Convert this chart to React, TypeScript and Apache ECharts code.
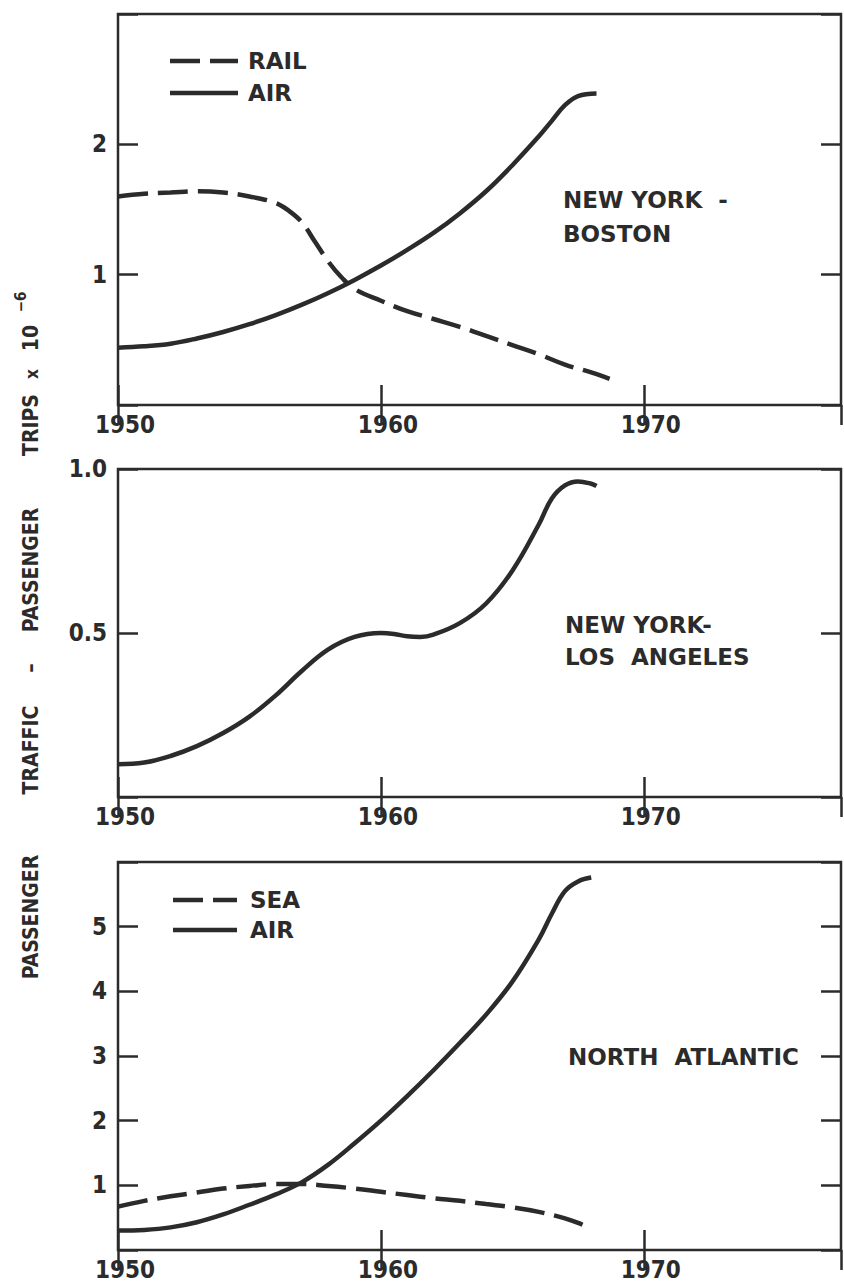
import React, { useEffect, useRef } from "react";
import * as echarts from "echarts";

// ---- Data ----
const bosAirYears = [1950, 1951, 1952, 1953, 1954, 1955, 1956, 1957, 1958, 1959, 1960, 1961, 1962, 1963, 1964, 1965, 1966, 1966.5, 1967, 1967.5, 1968.2];
const bosAirValues = [0.44, 0.45, 0.47, 0.51, 0.56, 0.62, 0.69, 0.77, 0.86, 0.96, 1.07, 1.19, 1.32, 1.47, 1.64, 1.84, 2.06, 2.18, 2.3, 2.37, 2.39];

const bosRailYears = [1950, 1951, 1952, 1953, 1954, 1955, 1956, 1956.5, 1957, 1957.5, 1958, 1958.5, 1959, 1960, 1961, 1962, 1963, 1964, 1965, 1966, 1967, 1968, 1968.7];
const bosRailValues = [1.6, 1.62, 1.63, 1.64, 1.63, 1.6, 1.55, 1.49, 1.4, 1.25, 1.1, 0.98, 0.89, 0.8, 0.72, 0.66, 0.6, 0.53, 0.46, 0.39, 0.31, 0.25, 0.2];

const laAirYears = [1950, 1951, 1952, 1953, 1954, 1955, 1956, 1957, 1958, 1959, 1960, 1960.5, 1961, 1961.5, 1962, 1963, 1964, 1965, 1966, 1966.5, 1967, 1967.5, 1968, 1968.2];
const laAirValues = [0.1, 0.105, 0.125, 0.155, 0.195, 0.245, 0.31, 0.385, 0.45, 0.488, 0.5, 0.497, 0.49, 0.488, 0.495, 0.53, 0.59, 0.69, 0.83, 0.91, 0.95, 0.962, 0.955, 0.948];

const naAirYears = [1950, 1951, 1952, 1953, 1954, 1955, 1956, 1957, 1958, 1959, 1960, 1961, 1962, 1963, 1964, 1965, 1966, 1966.5, 1967, 1967.5, 1968];
const naAirValues = [0.3, 0.31, 0.35, 0.43, 0.55, 0.7, 0.86, 1.05, 1.32, 1.65, 2.0, 2.38, 2.78, 3.2, 3.64, 4.15, 4.8, 5.2, 5.55, 5.7, 5.76];

const naSeaYears = [1950, 1951, 1952, 1953, 1954, 1955, 1956, 1957, 1958, 1959, 1960, 1961, 1962, 1963, 1964, 1965, 1966, 1967, 1967.5, 1968];
const naSeaValues = [0.67, 0.76, 0.83, 0.89, 0.95, 0.99, 1.02, 1.02, 0.99, 0.95, 0.9, 0.85, 0.8, 0.76, 0.71, 0.66, 0.59, 0.49, 0.42, 0.33];

const xTickLabels = ["1950", "1960", "1970"];
const bosYLabels = ["1", "2"];
const laYLabels = ["0.5", "1.0"];
const naYLabels = ["1", "2", "3", "4", "5"];

const panelTitles = [["NEW YORK\u00A0\u00A0-", "BOSTON"], ["NEW YORK-", "LOS\u00A0\u00A0ANGELES"], ["NORTH\u00A0\u00A0ATLANTIC"]];
const legend1 = ["RAIL", "AIR"];
const legend3 = ["SEA", "AIR"];
const yTitleWords = ["PASSENGER", "TRAFFIC", "\u2013", "PASSENGER", "TRIPS", "x", "10", "\u22126"];

const INK = "#2b2b2b";
const FONT_C = "'DejaVu Sans Condensed', 'DejaVu Sans', sans-serif";
const FONT = "'DejaVu Sans', sans-serif";
const LW = 4.5;
const DASH = [30, 10];

const pairs = (xs: number[], ys: number[]) => xs.map((x, i) => [x, ys[i]]);

export default function App() {
  const ref = useRef<HTMLDivElement>(null);

  useEffect(() => {
    if (!ref.current) return;
    const chart = echarts.init(ref.current, undefined, { renderer: "svg" });

    const grids = [
      { left: 118, top: 14, width: 723, height: 391 },
      { left: 118, top: 469, width: 723, height: 328 },
      { left: 118, top: 862, width: 723, height: 388 },
    ];
    const yCfg = [
      { min: 0, max: 3, interval: 1, labels: bosYLabels },
      { min: 0, max: 1, interval: 0.5, labels: laYLabels },
      { min: 0, max: 6, interval: 1, labels: naYLabels },
    ];

    const tick = { show: true, inside: true, length: 20, lineStyle: { color: INK, width: 2.5 } };
    const xAxis: any[] = [];
    const yAxis: any[] = [];
    grids.forEach((g, i) => {
      const base = {
        type: "value",
        gridIndex: i,
        min: 1950,
        max: 1977.5,
        interval: 10,
        axisLine: { show: false },
        splitLine: { show: false },
        axisTick: tick,
      };
      xAxis.push({
        ...base,
        position: "bottom",
        axisLabel: {
          show: true,
          margin: 9,
          color: INK,
          fontFamily: FONT_C,
          fontWeight: "bold",
          fontSize: 24,
          lineHeight: 22,
          padding: [0, 0, 0, 14],
          showMaxLabel: false,
          formatter: (v: number) => {
            const s = String(v);
            return xTickLabels.indexOf(s) >= 0 ? s : "";
          },
        },
      });
      xAxis.push({ ...base, position: "top", axisLabel: { show: false } });
      const yc = yCfg[i];
      const ybase = {
        type: "value",
        gridIndex: i,
        min: yc.min,
        max: yc.max,
        interval: yc.interval,
        axisLine: { show: false },
        splitLine: { show: false },
        axisTick: tick,
      };
      yAxis.push({
        ...ybase,
        position: "left",
        axisLabel: {
          show: true,
          margin: 11,
          color: INK,
          fontFamily: FONT_C,
          fontWeight: "bold",
          fontSize: 24,
          formatter: (v: number) => {
            const s = yc.interval < 1 ? v.toFixed(1) : String(v);
            return yc.labels.indexOf(s) >= 0 ? s : "";
          },
        },
      });
      yAxis.push({ ...ybase, position: "right", axisLabel: { show: false } });
    });

    const lineSeries = (name: string, data: number[][], gi: number, dashed: boolean) => ({
      name,
      type: "line",
      xAxisIndex: gi * 2,
      yAxisIndex: gi * 2,
      data,
      smooth: 0.4,
      showSymbol: false,
      symbol: "none",
      lineStyle: { color: INK, width: LW, type: dashed ? DASH : "solid" },
      silent: true,
    });

    const series = [
      lineSeries("RAIL", pairs(bosRailYears, bosRailValues), 0, true),
      lineSeries("AIR", pairs(bosAirYears, bosAirValues), 0, false),
      lineSeries("AIR ", pairs(laAirYears, laAirValues), 1, false),
      lineSeries("SEA", pairs(naSeaYears, naSeaValues), 2, true),
      lineSeries("AIR  ", pairs(naAirYears, naAirValues), 2, false),
    ];

    const txt = (x: number, y: number, text: string, size = 23, family = FONT) => ({
      type: "text",
      x,
      y,
      silent: true,
      style: {
        text,
        fill: INK,
        font: `bold ${size}px ${family}`,
        textAlign: "left",
        textVerticalAlign: "middle",
      },
    });
    const legLine = (x1: number, x2: number, y: number, dashed: boolean) => ({
      type: "line",
      silent: true,
      shape: { x1, y1: y, x2, y2: y },
      style: { stroke: INK, lineWidth: LW, lineDash: dashed ? DASH : null },
    });
    // rotated y-axis title, word by word (centre position along the axis, px)
    const titleCentres = [917, 750, 668, 570, 425, 374, 338, 302];
    const titleSizes = [21, 21, 21, 21, 21, 17, 21, 15];
    const titleX = [31, 31, 31, 31, 31, 32, 31, 21];
    const titleTexts = yTitleWords.map((w, i) => ({
      type: "text",
      x: titleX[i],
      y: titleCentres[i],
      rotation: Math.PI / 2,
      silent: true,
      style: {
        text: w,
        fill: INK,
        font: `bold ${titleSizes[i]}px ${FONT_C}`,
        textAlign: "center",
        textVerticalAlign: "middle",
      },
    }));

    const graphic: any[] = [
      legLine(170, 238, 61, true),
      txt(248, 61, legend1[0]),
      legLine(170, 238, 93, false),
      txt(248, 93, legend1[1]),
      legLine(173, 237, 900, true),
      txt(250, 900, legend3[0]),
      legLine(173, 237, 930, false),
      txt(250, 930, legend3[1]),
      txt(563, 200, panelTitles[0][0]),
      txt(563, 234, panelTitles[0][1]),
      txt(565, 625, panelTitles[1][0]),
      txt(565, 657, panelTitles[1][1]),
      txt(568, 1057, panelTitles[2][0]),
      ...titleTexts,
    ];

    chart.setOption({
      animation: false,
      backgroundColor: "#ffffff",
      grid: grids.map((g) => ({ ...g, show: true, borderColor: INK, borderWidth: 2.5, backgroundColor: "transparent" })),
      xAxis,
      yAxis,
      series,
      graphic,
    });

    return () => chart.dispose();
  }, []);

  return (
    <div
      ref={ref}
      style={{ position: "fixed", left: 0, top: 0, width: 844, height: 1284, background: "#fff" }}
    />
  );
}
